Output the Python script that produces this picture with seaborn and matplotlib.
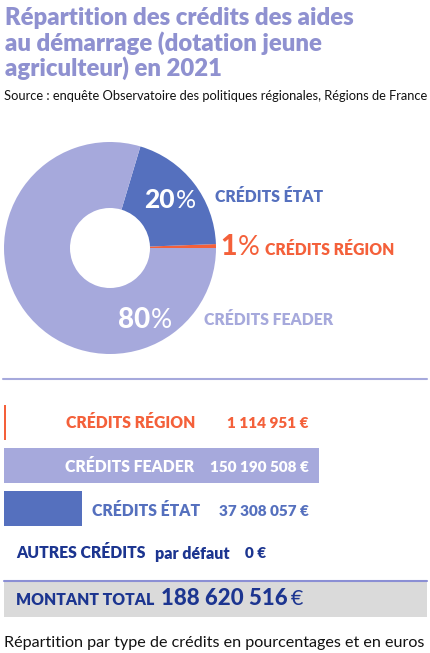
import matplotlib
matplotlib.use("Agg")
import matplotlib.pyplot as plt
import seaborn as sns
import numpy as np

sns.set_theme(style="white")
plt.rcParams['font.family'] = ['Lato', 'DejaVu Sans']

# ---------------- data ----------------
categories = ["CRÉDITS RÉGION", "CRÉDITS FEADER", "CRÉDITS ÉTAT"]
amounts = [1114951, 150190508, 37308057]
amount_labels = ["1 114 951 €", "150 190 508 €", "37 308 057 €"]
pct_labels = ["1", "80", "20"]
other_label = "AUTRES CRÉDITS"
other_value = "0 €"
total_label = "MONTANT TOTAL"
total_value = "188 620 516"
title_lines = ["Répartition des crédits des aides",
               "au démarrage (dotation jeune",
               "agriculteur) en 2021"]
source = "Source : enquête Observatoire des politiques régionales, Régions de France"
footer = "Répartition par type de crédits en pourcentages et en euros"

# ---------------- style ----------------
C_REG = "#f4603a"
C_FEA = "#a6a9dc"
C_ETA = "#5570be"
C_TITLE = "#8f91d0"
C_DARK = "#1c3590"
colors = [C_REG, C_FEA, C_ETA]
BOLD = 800

W, H = 431, 653
fig = plt.figure(figsize=(W / 100, H / 100), dpi=100)
fig.patch.set_facecolor("white")


def px(x, y):
    return x / W, 1 - y / H


def ftext(x, y, s, **kw):
    fx, fy = px(x, y)
    kw.setdefault("va", "baseline")
    return fig.text(fx, fy, s, **kw)


# ---------------- title ----------------
for line, yb in zip(title_lines, [25, 50.5, 76]):
    ftext(5, yb, line, fontsize=17.2, fontweight=BOLD, color=C_TITLE, ha="left")
ftext(4, 100.5, source, fontsize=9.3, color="#111111", ha="left")

# ---------------- donut ----------------
cx, cy, r, rin = 110, 248, 106, 40
order = [0, 2, 1]  # Région, État, FEADER counter-clockwise from 3 o'clock
axp = fig.add_axes([(cx - r) / W, 1 - (cy + r) / H, 2 * r / W, 2 * r / H])
axp.pie([amounts[i] for i in order], colors=[colors[i] for i in order],
        startangle=0, counterclock=True, radius=1,
        wedgeprops=dict(width=1 - rin / r, linewidth=0))
axp.set_xlim(-1, 1)
axp.set_ylim(-1, 1)
axp.set_aspect("auto")
axp.axis("off")


def pct(x, y, num, color, size):
    ftext(x, y, num, fontsize=size, fontweight=900, color=color, ha="right")
    ftext(x + 0.5, y, "%", fontsize=size - 1, fontweight="normal", color=color, ha="left")


pct(175, 208, pct_labels[2], "white", 19)
pct(237, 255, pct_labels[0], C_REG, 20.5)
pct(150, 328, pct_labels[1], "white", 20)
ftext(215, 201.5, categories[2], fontsize=11.3, fontweight=BOLD, color=C_ETA, ha="left")
ftext(265, 255, categories[0], fontsize=11.3, fontweight=BOLD, color=C_REG, ha="left")
ftext(204, 325, categories[1], fontsize=11.3, fontweight=BOLD, color=C_FEA, ha="left")

# separator line
fig.add_artist(plt.Line2D([3 / W, 427 / W], [1 - 379 / H] * 2, color=C_FEA, lw=1.5))

# ---------------- bars ----------------
scale = 315 / amounts[1]
axb = fig.add_axes([4 / W, 1 - 530 / H, 423 / W, 129 / H])
sns.barplot(x=amounts, y=categories, hue=categories, palette=colors, legend=False,
            orient="h", width=35 / 43, ax=axb, saturation=1, linewidth=0)
axb.set_xlim(0, 423 / scale)
axb.set_ylim(2.5, -0.5)
axb.axis("off")

label_colors = [C_REG, "white", C_ETA]
label_x = [195, 194, 200]
baselines = [428.5, 472, 516]
for i, (cat, val, lc) in enumerate(zip(categories, amount_labels, label_colors)):
    ftext(label_x[i], baselines[i], cat, fontsize=11.3, fontweight=BOLD, color=lc, ha="right")
    ftext(309, baselines[i], val, fontsize=11, fontweight=BOLD, color=lc, ha="right")

# other credits
ftext(16, 558.5, other_label, fontsize=11.3, fontweight=BOLD, color=C_DARK, ha="left")
ftext(155, 558.5, "par défaut", fontsize=11.5, fontweight=BOLD, color=C_DARK, ha="left")
ftext(245, 558.5, other_value, fontsize=11, fontweight=BOLD, color=C_DARK, ha="left")

# total box
fig.add_artist(plt.Rectangle(px(4, 617), 423 / W, 36 / H, color="#dadada", lw=0))
fig.add_artist(plt.Line2D([4 / W, 427 / W], [1 - 581 / H] * 2, color="#8b8fd4", lw=1.5))
ftext(16, 605, total_label, fontsize=11.3, fontweight=BOLD, color=C_DARK, ha="left")
ftext(288, 605, total_value, fontsize=16, fontweight=900, color=C_DARK, ha="right")
ftext(291, 605, "€", fontsize=15.5, fontweight="normal", color=C_DARK, ha="left")

# footer
ftext(4, 646.5, footer, fontsize=11.6, color="#111111", ha="left")

fig.savefig("out.png", dpi=100, facecolor="white")
